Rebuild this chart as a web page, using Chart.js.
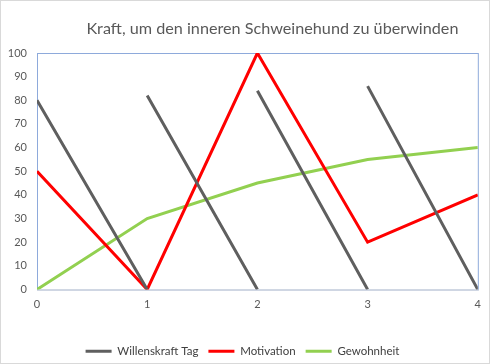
<!DOCTYPE html>
<html>
<head>
<meta charset="utf-8">
<script src="https://cdn.jsdelivr.net/npm/chart.js@4"></script>
<style>
  html, body { margin: 0; padding: 0; background: #fff; }
  #wrap { width: 488px; height: 362px; border: 1px solid #d9d9d9; }
</style>
</head>
<body>
<div id="wrap"><canvas id="myChart" width="488" height="362"></canvas></div>
<script>
const titleText = "Kraft, um den inneren Schweinehund zu überwinden";
const days = [0, 1, 2, 3, 4];
const yTicks = [0, 10, 20, 30, 40, 50, 60, 70, 80, 90, 100];

// each day willpower starts high and drops to zero
const willenskraftStart = [80, 82, 84, 86];
const willenskraftEnd = [0, 0, 0, 0];
const motivation = [50, 0, 100, 20, 40];
const gewohnheit = [0, 30, 45, 55, 60];

const GREY = "#5f5f5f";
const RED = "#ff0000";
const GREEN = "#92d050";
const TEXT = "#595959";

// segments split by a null point so the line breaks between days
const willData = [];
willenskraftStart.forEach((v, i) => {
    if (i > 0) willData.push({ x: days[i], y: null });
    willData.push({ x: days[i], y: v });
    willData.push({ x: days[i + 1], y: willenskraftEnd[i] });
});

const frame = {
    id: "frame",
    beforeDatasetsDraw(chart) {
        const { ctx, chartArea: a } = chart;
        ctx.save();
        ctx.lineWidth = 1;
        ctx.strokeStyle = "#8eaadb";
        ctx.strokeRect(a.left + 0.5, a.top + 0.5, a.right - a.left, a.bottom - a.top);
        ctx.strokeStyle = "#d9d9d9";
        ctx.beginPath();
        ctx.moveTo(a.left, a.bottom + 0.5);
        ctx.lineTo(a.right + 1, a.bottom + 0.5);
        ctx.stroke();
        ctx.restore();
    },
    afterDraw(chart) {
        const { ctx, chartArea: a } = chart;
        ctx.save();
        ctx.font = "16.2px Lato";
        ctx.fillStyle = TEXT;
        ctx.textAlign = "center";
        ctx.textBaseline = "middle";
        ctx.fillText(titleText, (a.left + a.right) / 2 + 15, 28);
        ctx.restore();
    }
};

const data = {
    datasets: [{
        label: "Willenskraft Tag",
        data: willData,
        borderColor: GREY,
        backgroundColor: GREY,
        borderWidth: 3,
        pointRadius: 0,
        pointStyle: "line",
        spanGaps: false
    }, {
        label: "Motivation",
        data: days.map((d, i) => ({ x: d, y: motivation[i] })),
        borderColor: RED,
        backgroundColor: RED,
        borderWidth: 3,
        pointRadius: 0,
        pointStyle: "line"
    }, {
        label: "Gewohnheit",
        data: days.map((d, i) => ({ x: d, y: gewohnheit[i] })),
        borderColor: GREEN,
        backgroundColor: GREEN,
        borderWidth: 3,
        pointRadius: 0,
        pointStyle: "line"
    }]
};

let config = {
    type: "line",
    data,
    options: {
        responsive: false,
        animation: false,
        layout: {
            padding: { top: 52, right: 10, left: 5, bottom: -4 }
        },
        plugins: {
            legend: {
                position: "bottom",
                labels: {
                    usePointStyle: true,
                    pointStyleWidth: 26,
                    boxHeight: 3,
                    padding: 10,
                    color: "#404040",
                    font: { family: "Lato", size: 11.5 }
                }
            },
            title: { display: false },
            tooltip: { enabled: false }
        },
        scales: {
            x: {
                type: "linear",
                min: 0,
                max: 4,
                afterFit: (scale) => { scale.height = 46; },
                ticks: {
                    stepSize: 1,
                    color: TEXT,
                    padding: 8,
                    font: { family: "Lato", size: 11 }
                },
                grid: { display: false, drawTicks: false },
                border: { display: false }
            },
            y: {
                min: 0,
                max: 100,
                afterFit: (scale) => { scale.width = 31; },
                afterBuildTicks: (scale) => { scale.ticks = yTicks.map(v => ({ value: v })); },
                ticks: {
                    color: TEXT,
                    padding: 10,
                    font: { family: "Lato", size: 11 }
                },
                grid: { display: false, drawTicks: false },
                border: { display: false }
            }
        }
    },
    plugins: [frame]
};

const ctx = document.getElementById("myChart");
let myChart = new Chart(ctx, config);
</script>
</body>
</html>
